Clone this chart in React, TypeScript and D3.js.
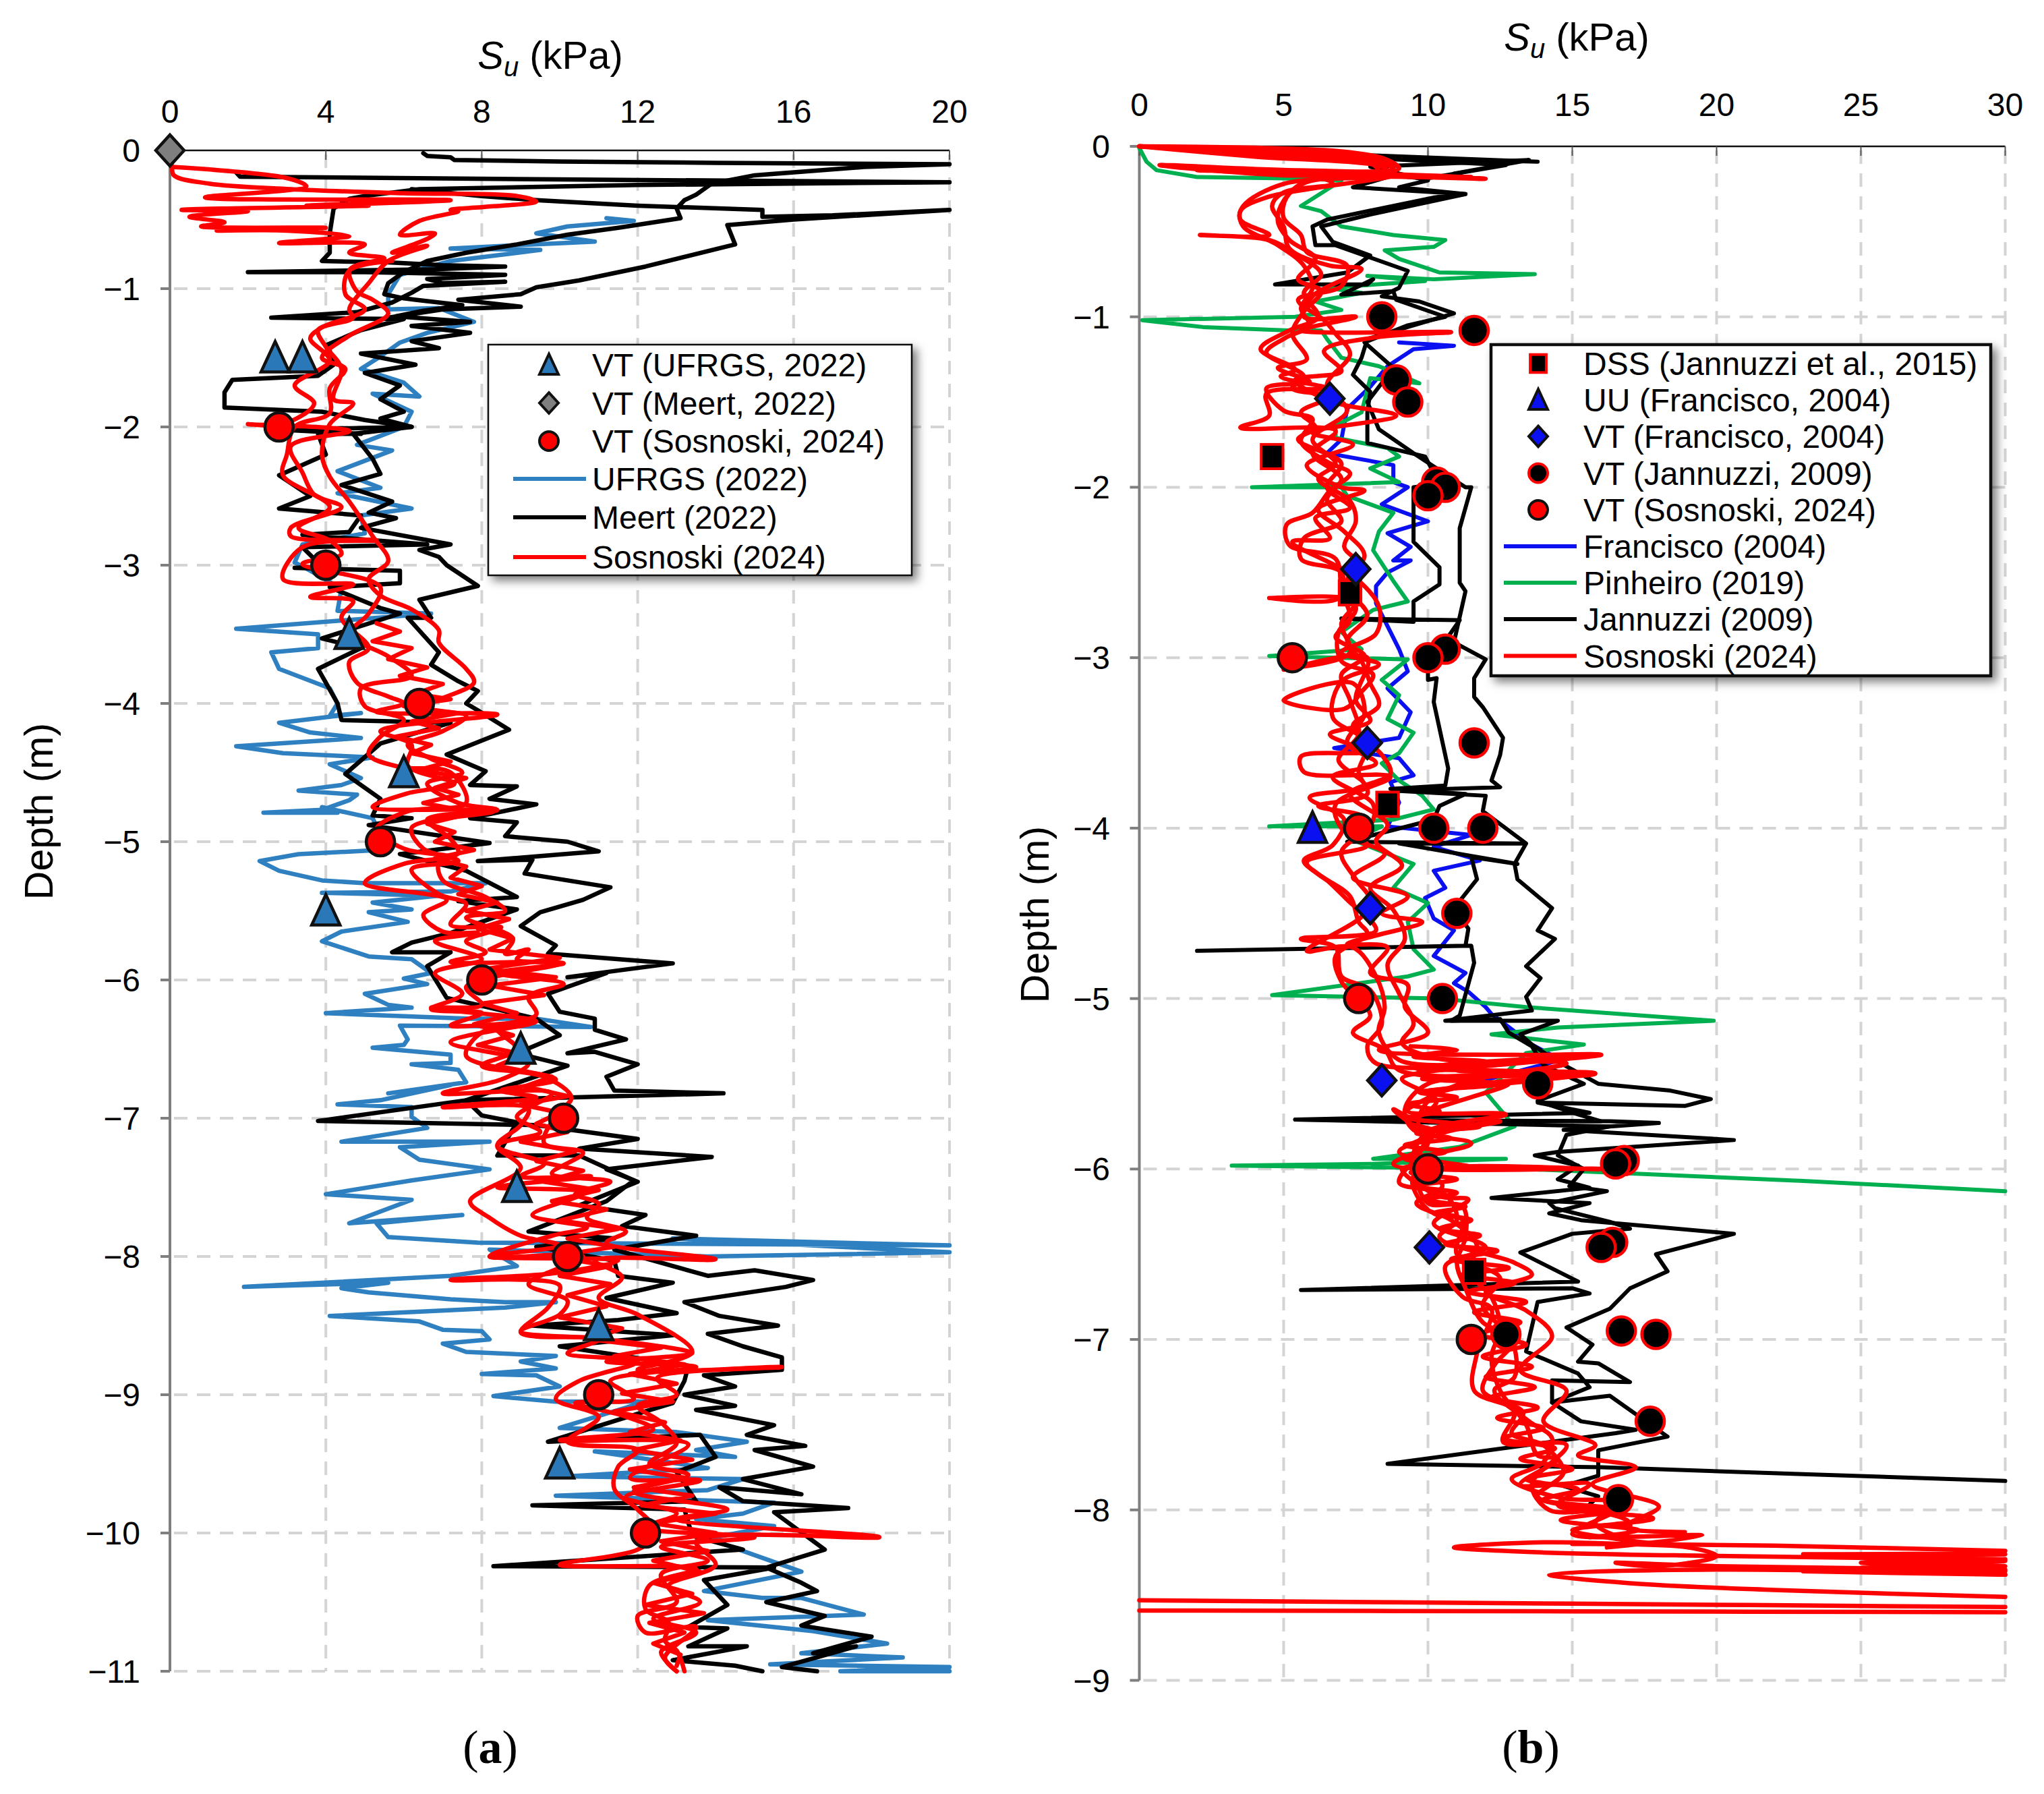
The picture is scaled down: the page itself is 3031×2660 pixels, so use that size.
import React from "react";
import * as d3 from "d3";

type P = [number, number];

// ---------- Panel (a): [Su kPa, depth m below ground] ----------
const ufrgsA: P[] = [[11.2,.49],[11.9,.51],[10.2,.55],[9.4,.6],[10.9,.66],[8.6,.69],[7.2,.71],[9.5,.72],[7.2,.8],[5.9,.9],[5.6,1.04],[5.6,1.15],[6.9,1.14],[7.8,1.24],[6.6,1.32],[5.9,1.39],[5.4,1.49],[4.9,1.58],[6,1.68],[6.4,1.78],[5.2,1.76],[6.2,1.89],[6,2],[4.8,2.13],[5.7,2.17],[4.3,2.32],[5.4,2.44],[4.3,2.48],[6.2,2.59],[4.9,2.64],[5,2.77],[3.4,2.85],[3.2,2.98],[3.6,3.04],[4.4,3.17],[4.3,3.33],[6.7,3.35],[1.7,3.46],[3.8,3.5],[3.8,3.6],[2.6,3.63],[2.8,3.75],[4.1,3.89],[4.3,4],[4.1,4.09],[4.9,4.07],[2.8,4.14],[3.6,4.21],[4.9,4.25],[1.7,4.31],[2.9,4.36],[5.2,4.39],[4.1,4.44],[4.9,4.54],[4.4,4.59],[3.3,4.63],[4.8,4.66],[4.6,4.7],[3.9,4.77],[2.4,4.79],[4.3,4.79],[3.9,4.75],[5.2,4.83],[5.4,4.95],[5.4,5.06],[3.3,5.09],[2.3,5.14],[2.8,5.21],[3.9,5.28],[5,5.3],[8.1,5.3],[7.2,5.36],[3.9,5.37],[6.9,5.39],[5.2,5.44],[6.2,5.49],[5.1,5.51],[6.1,5.58],[4.4,5.65],[3.9,5.72],[5.1,5.83],[6.2,5.85],[6.7,5.95],[6,5.99],[6.6,6.03],[5,6.1],[5.6,6.18],[6.2,6.2],[4,6.24],[7.7,6.28],[9.4,6.28],[10.8,6.34],[5.9,6.33],[6.1,6.43],[6,6.47],[5.2,6.49],[7.2,6.54],[7.2,6.6],[6.2,6.61],[7.4,6.65],[7.6,6.74],[5.6,6.82],[7.2,6.76],[5.4,6.87],[4.3,6.9],[6.2,6.92],[6.2,6.99],[6.6,7.07],[4.4,7.17],[8.2,7.17],[5.9,7.21],[6.4,7.3],[8.2,7.37],[6.2,7.45],[4,7.55],[6.2,7.59],[4.6,7.76],[7.5,7.7],[5.3,7.76],[5.6,7.86],[7.9,7.9],[20,7.92],[12.9,7.87],[20,7.97],[13.8,8],[8.2,7.95],[8.9,8.07],[7.2,8.14],[1.9,8.22],[5.6,8.19],[4.4,8.23],[5.1,8.26],[7.2,8.31],[8.6,8.33],[9.9,8.33],[8.6,8.37],[4.1,8.43],[6.4,8.47],[7,8.53],[8,8.54],[8.2,8.6],[7,8.63],[7.6,8.69],[9.9,8.72],[9,8.76],[9.9,8.81],[8,8.85],[9.4,8.86],[10,8.94],[8.3,9.01],[9.9,9.05],[12.2,9.05]];
const ufrgsB: P[] = [[12.2,9.05],[10,9.24],[13,9.27],[14.8,9.34],[13.5,9.4],[14.5,9.45],[10.9,9.41],[13.8,9.53],[10.2,9.59],[14.7,9.61],[13.8,9.69],[9.9,9.73],[15.5,9.78],[14.7,9.86],[13.5,9.9],[15.5,9.95],[13.8,10.04],[16.2,10.28],[13.7,10.42],[15.2,10.47],[16.2,10.47],[17.8,10.59],[13.8,10.63],[16.5,10.71],[18.4,10.8],[16.2,10.87],[18.8,10.9],[15.4,10.95],[20,10.97],[17.2,11],[20,11]];
const meertA: P[] = [[6.5,.02],[6.6,.04],[7.2,.05],[7.3,.07],[10,.08],[14,.09],[20,.1],[17.8,.12],[15,.18],[13.9,.24],[13.5,.32],[13.2,.36],[13,.42],[13.1,.49],[11.5,.56],[10.2,.61],[8.9,.68],[7.6,.74],[6.6,.8],[6,.88],[5.6,.96],[5.5,1.04],[6,1.07],[6.3,1.08],[7.5,1.12],[6.5,1.16],[5.8,1.2],[7.7,1.24],[6.2,1.27],[7.7,1.32],[6.2,1.38],[6.9,1.43],[4.9,1.47],[6.3,1.55],[5,1.61],[5.9,1.7],[5.4,1.8],[6,1.89],[5.4,1.94],[6.2,2],[4.7,2.05],[5.2,2.23],[5.4,2.34],[4.4,2.42],[5.7,2.54],[5.1,2.62],[5.8,2.66],[4.9,2.73],[7.2,2.85],[6.4,2.89],[6.9,2.94],[7.1,3],[7.9,3.15],[6.4,3.25],[6.7,3.38],[6.1,3.38],[6.9,3.63],[6.7,3.72],[7.4,3.84],[7.9,3.91],[7.6,4],[7.9,4.05],[8.7,4.19],[7.1,4.37],[8.1,4.49],[7.7,4.59],[8.9,4.6],[8.2,4.69],[9.4,4.73],[7.7,4.83],[8.9,4.86],[8.6,4.96],[10.2,5],[11,5.07],[7.9,5.14],[9.3,5.13],[9.1,5.23],[11.3,5.33],[10.6,5.42],[9.5,5.51],[9,5.61],[9.9,5.75],[9.7,5.81],[12.9,5.88],[10.2,5.98],[11.2,5.95],[9.7,6.1],[10,6.23],[10.9,6.28],[10.9,6.36],[11.7,6.43],[10.2,6.53],[10.9,6.52],[12,6.61],[11.2,6.7],[11.4,6.8],[14.2,6.82],[7.6,6.87],[3.8,7.02],[9.4,7.05],[12,7.15],[10.5,7.22],[13.9,7.28],[11.2,7.37],[12,7.46],[10.5,7.63],[12.2,7.7],[11.6,7.78],[13.5,7.85],[11.4,7.95],[13.8,8.14],[15,8.1],[16.5,8.17],[15.8,8.22],[13.2,8.33],[14.1,8.43],[15.6,8.5],[13.8,8.56],[14.7,8.65],[15.7,8.73],[15.7,8.82],[13.7,8.86],[14.5,8.94],[13.2,9],[14.5,9.08],[13.5,9.11],[15.5,9.22],[14.8,9.29],[16.3,9.37],[15,9.4],[16.5,9.52],[14.7,9.61],[16.2,9.72],[14.1,9.67],[14.7,9.77],[17.4,9.82],[15.5,9.85],[16.8,10.12],[15.3,10.25],[16.2,10.36],[16.6,10.42],[15.3,10.5],[16.8,10.6],[16.2,10.67],[18,10.75],[16.5,10.87],[17.6,10.82],[15.7,10.97],[16.6,11]];
const meertB: P[] = [[1.7,.16],[1.8,.19],[10,.21],[20,.23],[12,.25],[6.4,.28],[5,.33],[4.6,.35],[4.2,.42],[4.1,.6],[4.1,.74],[3.9,.8],[5.6,.81],[7,.83],[8.6,.84],[6.8,.86],[2,.88],[5,.88],[8.6,.9],[6.6,.93],[7,.96],[8.6,.95],[6.5,.98],[6.2,1.03],[5.7,1.1],[4.8,1.17],[2.6,1.21],[6,1.22],[4.9,1.3],[4,1.41],[4.1,1.45],[4.2,1.55],[3.8,1.63],[1.6,1.66],[1.4,1.75],[1.4,1.86],[3.9,1.89],[5,1.95],[6.2,2],[2.8,2.02],[4.9,2.05],[3.8,2.05],[4,2.2],[2.8,2.35],[3.6,2.5],[2.8,2.59],[4.9,2.64],[4.6,2.76],[3.4,2.78],[6.6,2.85],[3.4,2.87],[3.9,3.01],[3.2,3.02],[5.9,3.04],[5.9,3.13],[4.1,3.16],[5.4,3.31],[5.9,3.35],[3.9,3.53],[4.9,3.6],[3.8,3.75],[4.3,4],[4.4,4.12],[7.2,4.14],[5.4,4.29],[4.5,4.51],[5.4,4.69],[5.2,4.81],[6.2,4.83],[5.1,4.88],[8.2,5.01],[5.9,5.09],[7.6,5.21],[8.9,5.4],[7.4,5.43],[8.9,5.49],[7.2,5.66],[6.2,5.73],[5.7,5.8],[7.2,5.8],[6.6,5.9],[7.1,6.13],[8.2,6.2],[9.4,6.28],[10,6.4],[8.9,6.53],[10.2,6.62],[7.6,6.87],[8,6.98],[8.9,7.03],[8.4,7.27],[10.5,7.27],[11.9,7.45],[11.2,7.6],[9.2,7.82],[11.4,7.87],[9.4,7.93],[11.4,8.03],[11.5,8.14],[12.9,8.19],[11.2,8.3],[13,8.41],[11.5,8.46],[9.3,8.5],[12.9,8.57],[10,8.65],[13.3,8.79],[13.2,8.9],[12.9,9.06],[12.2,9.12],[9.7,9.34],[13.6,9.29],[14,9.45],[13,9.56],[13.5,9.77],[9.3,9.8],[13.2,9.83],[13.4,10.02],[14.7,10.12],[8.3,10.24],[15.5,10.25],[13.7,10.34],[14.3,10.52],[13.3,10.68],[14.3,10.69],[13.3,10.82],[14.8,10.82],[12.9,10.92],[14.5,10.96],[15.2,11]];
const meertC: P[] = [[6.2,.28],[8,.33],[9.4,.36],[12,.4],[15.2,.43],[15.2,.48],[17,.47],[20,.43],[16,.5],[14.3,.54],[14.5,.68],[12.2,.84],[10.5,.94],[9.4,.99],[9,1.04],[7.4,1.08],[9,1.13],[7,1.15],[5.6,1.21]];
const sosA: P[] = [[0,0],[0.05,.12],[.1,.18],[1,.24],[3.1,.28],[6,.31],[8.9,.33],[9.4,.37],[7.2,.43],[7.4,.44],[6.4,.51],[5.9,.61],[6.8,.6],[6.6,.64],[5.7,.74],[6.6,.69],[5.6,.8],[5.1,.96],[4.6,1.15],[4.7,1.21],[3.8,1.3],[4,1.42],[4.4,1.58],[4.2,1.8],[4.7,1.83],[4.1,1.98],[3.9,2.2],[4.1,2.36],[4.6,2.54],[5.2,2.79],[5.6,2.97],[5.1,3.1],[5.4,3.22],[6.2,3.32],[6.9,3.47],[6.9,3.56],[7.6,3.75],[7.8,3.85],[6.5,4.03],[7.6,4.09],[7,4.2],[6.1,4.3],[6.7,4.4],[7.5,4.5],[6.6,4.58],[7.4,4.72],[8.4,4.77],[6.6,4.84],[7.2,4.98],[7.4,5.08],[6.9,5.15],[7,5.28],[8.1,5.4],[8.6,5.5],[7.6,5.55],[8.8,5.7],[8.6,5.81],[9.2,5.78],[8.9,5.85],[10.1,5.88],[8.4,5.95],[10.1,6.03],[9.2,6.12],[9.4,6.25],[8.4,6.35],[8.9,6.5],[8,6.62],[9.6,6.7],[10.3,6.85],[9.9,6.98],[9.6,7.18],[10.6,7.25],[9.8,7.4],[11.3,7.46],[10.4,7.55],[11,7.62],[10.7,7.72],[11.7,7.82],[11.2,7.9],[14,8.02],[10.9,8.03],[11.6,8.15],[11,8.3],[12,8.42],[13.4,8.69],[12,8.82],[15.7,8.8],[12.5,8.88],[13,9],[12,9.08],[12.6,9.2],[13,9.35],[12.3,9.5],[13.3,9.58],[11.9,9.7],[14.3,9.83],[13,9.9],[18.2,10.03],[13.5,10.06],[14,10.23],[12.8,10.38],[13.6,10.5],[12.4,10.62],[13.5,10.72],[12.6,10.86],[13,11]];
const sosB: P[] = [[.05,.12],[3,.2],[3.5,.26],[.9,.34],[7.2,.36],[3.5,.4],[5.1,.4],[.3,.43],[2,.44],[.5,.48],[1.4,.52],[.8,.55],[4,.56],[1.2,.58],[3,.58],[4.6,.62],[2.8,.67],[5,.68],[4.6,.74],[5.5,.78],[4.8,.83],[4.6,.87],[4.8,1.02],[5.2,1.08],[5.6,1.18],[4.6,1.34],[3.9,1.5],[4.5,1.58],[4.1,1.72],[4.1,1.9],[3.2,2],[3,2.2],[2.9,2.35],[4.1,2.58],[3.3,2.73],[4.1,2.82],[4.4,2.92],[3.4,2.99],[5.4,3.16],[5.1,3.35],[4.6,3.5],[5.6,3.66],[6.2,3.8],[4.9,3.89],[5,4.02],[6,4.12],[5.4,4.24],[5.1,4.37],[5.9,4.46],[7.2,4.5],[7.6,4.72],[6.1,4.78],[5.3,4.91],[6,5.05],[7.2,5.11],[6,5.16],[5,5.3],[7.1,5.42],[6.5,5.53],[7,5.65],[7.9,5.66],[6.8,5.72],[8,5.85],[6.8,5.95],[7.5,6.1],[6.7,6.21],[8,6.24],[7.2,6.33],[9.3,6.31],[7.2,6.45],[9.2,6.6],[8.5,6.72],[7,6.82],[9.8,6.82],[8.9,6.99],[9.5,7.1],[8.4,7.2],[9,7.36],[7.7,7.6],[8.2,7.72],[9,7.85],[10,7.92],[8.2,8],[11.5,8.03],[9.9,8.12],[7.2,8.17],[10,8.21],[9.7,8.37],[9,8.55],[11,8.6],[10.2,8.7],[12,8.76],[10.5,8.9],[9.9,9.03],[11,9.16],[10.2,9.34],[12,9.4],[11.5,9.52],[11.4,9.68],[12,9.83],[12.5,10],[12,10.12],[10,10.23],[13.5,10.26],[12.3,10.38],[12.2,10.55],[12.8,10.65],[12.7,10.78],[13,10.85],[13.2,11]];
const sosC: P[] = [[5.7,.8],[4.6,.87],[4.5,1.04],[5,1.15],[3.9,1.28],[3.6,1.36],[4.1,1.52],[3.2,1.7],[3.7,1.83],[2.9,1.98],[2,1.98],[4.6,2.03],[3.1,2.14],[3.4,2.33],[3.7,2.49],[4.4,2.58],[3.1,2.73],[3.1,2.79],[5.3,2.82],[3.4,2.87],[2.9,3.1],[4.7,3.14],[3.6,3.23],[4.7,3.26],[4.4,3.38],[5.1,3.6],[4.6,3.7],[4.8,3.85],[5.6,3.95],[6,4],[5.3,4.06],[8.4,4.08],[5.4,4.2],[6.2,4.3],[6.1,4.45],[7.3,4.58],[6.1,4.65],[5.2,4.75],[8.3,4.78],[6.2,4.9],[6.5,5.05],[7.4,5.14],[6.2,5.2],[6.9,5.38],[7.6,5.45],[7.2,5.6],[8.5,5.62],[7.6,5.72],[8.1,5.8],[7.2,5.87],[10,5.88],[7.6,6.05],[8,6.18],[6.7,6.2],[9.4,6.3],[8,6.38],[7.6,6.55],[9.9,6.72],[8.5,6.8],[9.4,6.85],[7,6.92],[9.2,6.93],[9,7.05],[8.4,7.2],[9.6,7.33],[9,7.42],[10.8,7.42],[8.4,7.5],[10.6,7.54],[9.3,7.7],[10.7,7.79],[9.8,7.85],[8.2,8],[10.6,8],[9.2,8.2],[10.2,8.32],[10,8.42],[9,8.54],[11.2,8.6],[13.4,8.7],[11.2,8.76],[13.5,8.8],[11.3,8.9],[11.9,9.03],[10.4,9.06],[11.6,9.15],[12.4,9.25],[10,9.33],[13.3,9.36],[11.8,9.6],[13.6,9.62],[11.7,9.74],[13,9.86],[12.2,9.96],[15,10.03],[12.6,10.1],[13.8,10.2],[12.6,10.3],[13,10.5],[12,10.6],[12.2,10.72],[13.5,10.68],[12.7,10.9],[13,11]];
const sosD: P[] = [[5.3,3.42],[5.9,3.48],[5.2,3.55],[6.2,3.6],[5.6,3.68],[6.6,3.74],[5.9,3.8],[7,3.86],[6.3,3.93],[7.2,3.97],[6,4.02],[7.4,4.07],[6.2,4.13],[6.9,4.18],[5.8,4.24],[6.7,4.3],[6.2,4.36],[7.2,4.42],[6.4,4.48],[7.6,4.54],[6.8,4.61],[7.4,4.66],[6.5,4.72],[7.8,4.79],[6.6,4.87],[7.3,4.93],[6.8,5],[7.8,5.06],[6.8,5.12],[7.6,5.18],[7.2,5.26],[8,5.32],[7.4,5.38],[8.4,5.44],[7.6,5.5],[8.7,5.56],[7.9,5.63],[8.8,5.7],[8.2,5.78],[10,5.84],[8.1,5.92],[9.9,5.98],[8.2,6.04],[9.6,6.11],[8,6.17],[8.9,6.24],[7.8,6.32],[8.8,6.4],[7.9,6.47],[9.1,6.54],[8.4,6.62],[9.8,6.7],[9.1,6.77],[10.2,6.84],[9,6.9],[10,6.96],[9.4,7.04],[10.2,7.1],[9,7.17],[10.4,7.24],[9.4,7.31],[10.6,7.38],[9.6,7.46],[11,7.52],[9.8,7.6],[11.2,7.66],[10,7.74],[11.5,7.8],[10.2,7.87],[11.4,7.93],[9.8,8],[11.3,8.07],[10,8.14],[11.3,8.2],[10.2,8.28],[11.2,8.36],[10,8.44],[11.6,8.52],[10.8,8.6],[12.6,8.66],[11.4,8.72],[13.2,8.78],[11.8,8.85],[13,8.92],[11.6,8.99],[12.9,9.05],[11.4,9.12],[12.7,9.2],[11.8,9.27],[13.1,9.33],[11.9,9.4],[13.4,9.47],[11.8,9.54],[13.2,9.6],[11.9,9.67],[13.4,9.73],[12.1,9.8],[14,9.86],[12.4,9.93],[14,10],[12.6,10.06],[13.8,10.13],[12.4,10.2],[13.6,10.28],[12.4,10.36],[13.4,10.44],[12.2,10.52],[13.7,10.58],[12.3,10.65],[13.2,10.72],[12.4,10.8],[13.1,10.88],[13,10.96]];

const leftTriangles: P[] = [[2.7,1.5],[3.4,1.5],[4.6,3.5],[6,4.5],[4,5.5],[9,6.5],[8.9,7.5],[11,8.5],[10,9.5]];
const leftDiamonds: P[] = [[0,0]];
const leftCircles: P[] = [[2.8,2],[4,3],[6.4,4],[5.4,5],[8,6],[10.1,7],[10.2,8],[11,9],[12.2,10]];

// ---------- Panel (b) ----------
const francisco: P[] = [[9,1.15],[10.9,1.17],[9.5,1.19],[8.6,1.29],[8,1.41],[7.2,1.54],[7,1.72],[6.5,1.8],[8.8,1.87],[8.8,1.97],[9.3,2],[8.4,2.1],[10,2.2],[8.6,2.27],[9.4,2.35],[8.8,2.43],[9.4,2.43],[8.6,2.5],[8.2,2.58],[8.2,2.68],[9,2.95],[9.3,3.08],[8.6,3.18],[9.4,3.32],[9,3.47],[6.75,3.53],[9,3.59],[9.5,3.69],[8.7,3.73],[9,3.85],[8.6,3.99],[11.5,4.04],[10.2,4.11],[11.8,4.19],[10.2,4.25],[10.6,4.35],[9.9,4.41],[10.2,4.53],[10.9,4.6],[10.2,4.75],[11.3,4.85],[10.9,4.91],[11.4,4.96],[12,5.05],[12.2,5.09],[13.6,5.27],[14.6,5.36],[11.5,5.5]];
const pinheiro: P[] = [[0,.01],[.25,.09],[.6,.14],[2,.18],[5.8,.19],[7,.2],[5.6,.35],[6.3,.38],[7,.47],[8.8,.52],[10.6,.55],[10.2,.59],[8.5,.61],[9,.66],[10.4,.74],[13.7,.75],[10.2,.78],[7.9,.76],[9.9,.79],[6.5,.83],[7.7,.86],[6.1,.91],[7,.96],[5.4,1],[.1,1.02],[2.2,1.06],[5.2,1.08],[6.3,1.08],[6.5,1.13],[7,1.24],[8.3,1.29],[9.7,1.39],[8,1.36],[7.7,1.56],[6.8,1.64],[6.8,1.71],[8.6,1.77],[9,1.82],[8,1.89],[9,1.97],[3.9,2],[7,2],[7.2,2.05],[8.8,2.15],[8.3,2.26],[8.1,2.37],[8.8,2.55],[9.3,2.67],[8.1,2.72],[7,2.85],[7.7,2.95],[4.5,2.99],[9.3,3.01],[8.4,3.13],[9,3.22],[8.6,3.36],[9.5,3.44],[9,3.56],[8.4,3.62],[9,3.72],[9.8,3.81],[10.2,3.89],[8.8,3.95],[4.5,3.99],[8.4,3.99],[7.4,4.07],[9.5,4.21],[8.8,4.35],[10,4.44],[9.3,4.55],[9.5,4.71],[10.2,4.83],[9.3,4.87],[4.6,4.98],[10.4,5],[13.4,5.05],[19.9,5.13],[14.5,5.17],[12.2,5.21],[15.4,5.27],[13.4,5.32],[12,5.55],[13,5.75],[11.1,5.87],[8.1,5.94],[12.7,5.94],[8.1,5.97],[3.2,5.98],[13.4,6],[23,6.07],[30,6.13]];
const jannuzziA: P[] = [[0,0],[13.8,.09],[7,.06],[12.7,.11],[9.9,.19],[8.8,.17],[7.4,.24],[11.3,.28],[10.2,.3],[6.5,.43],[6,.47],[6.1,.58],[6.8,.58],[9.3,.73],[9,.83],[8.4,.88],[9.7,.91],[10.9,.98],[9.3,1.06],[7.9,1.13],[7.7,1.24],[7.4,1.34],[8,1.44],[7.9,1.56],[7.9,1.74],[9.9,1.82],[10.4,1.98],[9.5,2],[9.5,2.32],[10.4,2.47],[10.4,2.57],[9.5,2.67],[9.5,2.79],[7,2.77],[11.1,2.78],[10.4,2.95],[10,3.05],[10,3.13],[10.3,3.12],[10.2,3.26],[10.7,3.65],[10.6,3.75],[8.7,3.77],[11.3,3.8],[10.4,3.87],[10.2,3.95],[7.2,4.08],[13.3,4.09],[9,4.09],[13.1,4.21],[11.5,4.17],[11.7,4.3],[10.9,4.47],[11.4,4.59],[11.3,4.69],[2,4.72],[11.5,4.69],[11.6,4.79],[11.1,5.1],[10.8,5.13],[12.5,5.12],[12.8,5.2],[13.6,5.28],[14,5.39],[15.4,5.5],[13.8,5.6],[15.2,5.68],[16,5.72],[5.4,5.71],[16.3,5.75],[14.8,5.8],[14.5,5.92],[15.4,6],[14.9,6.1],[16.2,6.13],[14.2,6.2],[14.4,6.23],[16.3,6.31],[17,6.35],[15,6.38],[13.2,6.49],[15.2,6.66],[5.6,6.71],[15,6.7],[15.6,6.73],[13.8,6.78],[13.4,7.07],[15.2,7.2],[15.6,7.28],[14.3,7.37],[15.3,7.48],[17.2,7.53],[16.5,7.55],[8.6,7.73],[16,7.75],[23,7.79],[30,7.83]];
const jannuzziB: P[] = [[10.9,.16],[13.5,.08],[8,.12],[10,.2],[9,.24],[11.3,.28],[8,.4],[6.3,.47],[6.7,.56],[8,.64],[7.2,.74],[4.7,.81],[7.9,.81],[8.1,.78],[7,.87],[8.8,.85],[8.9,.9],[10.6,1],[9.3,1.05],[7.8,1.15],[8.8,1.3],[7.9,1.5],[8.3,1.66],[9.5,1.8],[11.3,2],[11.5,2],[11.1,2.24],[11.1,2.56],[11.3,2.61],[11.1,2.76],[10.9,2.91],[12,3.01],[11.6,3.12],[11.6,3.23],[11.9,3.29],[12.6,3.47],[12.5,3.57],[12.2,3.72],[12.5,3.76],[8.8,3.78],[12,3.81],[11.9,3.9],[13.4,4.09],[13,4.21],[13.1,4.3],[14.3,4.47],[13.8,4.6],[14.4,4.65],[13.4,4.81],[13.9,4.88],[13.4,4.99],[13.6,5.07],[10.6,5.13],[14.5,5.13],[13.2,5.21],[13.6,5.27],[14.5,5.37],[15.9,5.5],[18.4,5.54],[19.8,5.59],[18.9,5.63],[13.8,5.61],[15.6,5.67],[5.4,5.71],[16.3,5.72],[18,5.73],[14.7,5.77],[20.6,5.83],[14.5,5.9],[13.7,5.92],[15.2,5.98],[14.5,6.06],[15.6,6.11],[12.2,6.17],[15.6,6.2],[14.2,6.26],[15.3,6.3],[20.6,6.38],[17.9,6.5],[18.3,6.6],[17,6.7],[16.3,6.82],[14.8,6.93],[15.7,7.03],[15.2,7.13],[15.9,7.14],[17,7.25],[14.3,7.24],[14.3,7.37],[16.3,7.33],[18.3,7.57],[15.9,7.65],[15.9,7.8],[14.7,7.86],[15.9,7.92],[15.4,8]];
const sosbA: P[] = [[0,0],[2,.01],[8,.08],[8.8,.13],[8.8,.16],[5,.22],[3.6,.35],[3.5,.43],[4.5,.52],[2.1,.52],[4.5,.55],[5.4,.63],[6.3,.75],[5.7,.86],[6.2,1],[5.2,1.08],[4.2,1.19],[5.4,1.31],[4.9,1.35],[6.5,1.42],[4.4,1.45],[4.5,1.58],[3.5,1.65],[6.8,1.67],[6,1.8],[7,1.95],[6.5,2.07],[7,2.2],[5.7,2.3],[5.6,2.42],[7,2.5],[6.9,2.65],[4.5,2.65],[7.5,2.67],[7,2.8],[7.3,2.97],[5,3.07],[7.9,3],[7.5,3.25],[8,3.37],[6.6,3.45],[7.8,3.55],[5.6,3.58],[5.7,3.67],[8.7,3.7],[6.8,3.86],[7,4],[7.9,4.1],[5.8,4.2],[6.6,4.32],[7.2,4.42],[8.2,4.6],[5.6,4.65],[6.8,4.7],[7,4.87],[8,4.95],[8.4,5.15],[7.9,5.28],[8.2,5.38],[16,5.33],[10.2,5.4],[14.5,5.45],[10,5.5],[9.2,5.65],[9.5,5.77],[11.5,5.85],[9.6,5.95],[9,6.08],[10.6,6.15],[11,6.3],[10.4,6.4],[13,6.55],[13.6,6.62],[12,6.72],[13.4,6.83],[14.3,6.98],[13.2,7.18],[14.8,7.3],[14,7.48],[15.8,7.62],[15.2,7.68],[17.2,7.75],[15.7,7.85],[18,7.98],[16.8,8.1],[18.9,8.13]];
const sosbB: P[] = [[0,0],[7,.03],[8.6,.08],[9,.13],[5.5,.14],[.7,.11],[5,.17],[8.8,.17],[4.4,.3],[3.5,.38],[3.6,.47],[4.8,.58],[5.7,.7],[6,.83],[5.6,.95],[5.9,1.05],[5.1,1.12],[4.4,1.21],[5.7,1.35],[5.3,1.42],[6.6,1.47],[5.6,1.56],[6.1,1.65],[5.5,1.72],[7,1.86],[6.5,2],[7.3,2.12],[6.1,2.18],[6.6,2.3],[5.3,2.32],[7.4,2.52],[8.3,2.7],[8.2,2.86],[7,2.97],[8.3,3.04],[7,3.14],[6.7,3.35],[7.9,3.5],[7.6,3.67],[7.9,3.8],[6.2,3.87],[7.8,3.94],[7.4,4.05],[8.5,4.15],[7.4,4.29],[9.3,4.4],[8.4,4.5],[9.8,4.55],[8.2,4.63],[7.2,4.68],[8.6,4.7],[8,4.85],[9.3,4.92],[9.2,5.05],[10,5.2],[8.3,5.3],[13,5.33],[16,5.33],[11,5.42],[15.8,5.44],[10.2,5.57],[9.7,5.75],[12.5,5.72],[10,5.83],[9.6,6.03],[10,6.2],[11.2,6.22],[11.3,6.4],[11,6.55],[11.3,6.7],[11.9,6.9],[13,7],[12.3,7.15],[11.9,7.3],[13.3,7.43],[12.9,7.55],[14,7.62],[14.7,7.78],[13.8,7.92],[15.7,8],[17,8.08],[16.7,8.2]];
const sosbC: P[] = [[0,0],[4,.06],[8.2,.11],[8.6,.14],[6,.16],[12,.19],[5.8,.21],[5,.32],[4.8,.44],[5.2,.55],[6.1,.66],[5.5,.78],[6.3,.85],[5.7,.97],[5.3,1.1],[5.8,1.25],[4.8,1.3],[5.9,1.38],[4.4,1.42],[5,1.55],[6,1.6],[5.6,1.73],[6.5,1.85],[7.3,1.92],[6.6,2.02],[6,2.15],[5.1,2.22],[5.2,2.34],[6.8,2.42],[7,2.6],[7.3,2.78],[6.8,2.88],[7.8,2.99],[7,3.1],[7.3,3.25],[7.6,3.45],[6.9,3.6],[7.8,3.75],[5.9,3.82],[7.1,3.95],[6.7,4.1],[5.7,4.19],[6.2,4.27],[7.3,4.4],[7.6,4.55],[7.9,4.62],[6.8,4.75],[7,4.9],[8,5.1],[7.4,5.2],[8.5,5.3],[9,5.42],[15.5,5.44],[10,5.54],[12.8,5.5],[9.3,5.72],[10.2,5.78],[9,5.9],[11.5,5.99],[9.1,6],[10.4,6.16],[11.4,6.18],[10.2,6.32],[12,6.46],[10.6,6.57],[11.2,6.75],[12.2,6.82],[11.7,7.08],[11.6,7.3],[13,7.42],[12.6,7.6],[14.8,7.62],[13.6,7.85],[14.2,8],[16.5,8],[15,8.14],[19.5,8.15],[16.2,8.22]];
const sosbD: P[] = [[0,0],[3,.02],[7,.05],[8.8,.12],[8.6,.16],[11.5,.18],[6,.19],[5.1,.3],[5,.42],[5.6,.52],[5.8,.62],[7.2,.7],[7,.82],[5.5,.9],[6.4,1.02],[6.8,1.1],[7.3,1.22],[6.5,1.4],[7.2,1.55],[6,1.72],[6.8,1.86],[6.2,1.95],[7.3,2.08],[7.5,2.2],[7.1,2.35],[7.6,2.45],[7.3,2.6],[7.9,2.75],[7.2,2.9],[7.7,3.02],[8,3.15],[8.3,3.28],[7.4,3.4],[8.4,3.57],[8.7,3.68],[7.3,3.8],[8.6,3.98],[8.2,4.08],[9.1,4.22],[8,4.35],[8.8,4.48],[9.2,4.65],[8.6,4.8],[9,4.97],[9.5,5.15],[9.1,5.26],[10.3,5.35],[14.8,5.38],[11.5,5.48],[9.8,5.6],[9.3,5.66],[12.7,5.68],[10,5.78],[9.5,5.94],[10.5,6.1],[9.6,6.2],[10.8,6.3],[11.7,6.45],[11.4,6.6],[12.2,6.75],[12.5,6.94],[12.2,7.1],[12.5,7.3],[13.4,7.5],[13.8,7.68],[14.5,7.7],[13.2,7.85],[15.6,7.85],[14.5,7.97],[17.8,8.05],[15,8.12],[18,8.2]];
const sosbE: P[] = [[0,0],[5,.05],[7.9,.09],[8.3,.15],[2,.14],[6,.17],[6.7,.22],[5,.27],[4.6,.35],[5,.47],[5.2,.6],[6.6,.7],[7.7,.72],[6,.88],[5.7,1],[7.5,1],[5.6,1.08],[10.8,1.09],[8.2,1.12],[6.4,1.2],[7,1.32],[5.4,1.37],[6.7,1.5],[8.9,1.58],[6,1.68],[7.4,1.75],[5.8,1.87],[7,2],[7.8,2.02],[6.2,2.13],[7.1,2.26],[7.8,2.4],[7.2,2.55],[7.5,2.72],[6.9,2.85],[7,3.02],[8.1,3.1],[7.7,3.2],[7.1,3.3],[5,3.25],[7.4,3.15],[7.8,3.33],[7.2,3.5],[8.2,3.62],[6.7,3.7],[8.1,3.86],[8,3.99],[7,4.14],[7.5,4.3],[8,4.42],[7.7,4.52],[5.8,4.72],[7.4,4.7],[8.2,4.87],[8.5,5.05],[8.3,5.2],[9,5.36],[11,5.4],[9.1,5.47],[10.3,5.6],[9.5,5.7],[8.8,5.65],[10,5.85],[8.8,5.97],[16,6],[9.5,6.04],[10,6.24],[11.2,6.3],[11,6.5],[12.5,6.64],[11.9,6.8],[12.9,7],[13,7.22],[12.3,7.3],[13.5,7.48],[14.3,7.58],[14,7.72],[12.9,7.82],[14.6,7.93],[16.5,7.96],[15.8,8.08],[17,8.18]];
const sosbF: P[] = [[9.4,5.28],[11,5.3],[9.5,5.34],[12,5.37],[9.6,5.41],[13.5,5.43],[9.8,5.47],[12.6,5.5],[9.7,5.55],[11,5.58],[9.3,5.62],[10.4,5.66],[9.3,5.7],[11.8,5.75],[9.6,5.79],[10.8,5.82],[9.2,5.86],[10.6,5.9],[9.2,5.94],[10.4,5.98],[9.4,6.02],[11,6.06],[9.6,6.1],[11,6.14],[10,6.18],[11.3,6.22],[10.2,6.26],[11.5,6.3],[10.4,6.35],[11.8,6.39],[10.6,6.44],[12.4,6.48],[10.8,6.53],[12.8,6.58],[11.2,6.62],[13,6.67],[11.4,6.72],[13.4,6.78],[11.6,6.84],[13.2,6.9],[11.8,6.97],[13.4,7.03],[11.9,7.1],[13.6,7.16],[12,7.22],[13.7,7.28],[12.2,7.34],[13.8,7.4],[12.4,7.46],[14,7.52],[12.6,7.58],[14.4,7.64],[13.2,7.7],[15,7.76],[13.4,7.82],[15.2,7.88],[14,7.94],[16.6,8],[14.6,8.06],[17.3,8.12],[15.6,8.16]];
const sosbLoopA: P[] = [[30,8.24],[22,8.21],[17,8.2],[14,8.19],[10.9,8.22],[14,8.25],[20,8.27],[30,8.29]];
const sosbLoopB: P[] = [[15,8.2],[19,8.22],[20,8.27],[18,8.33],[16.5,8.31],[20,8.33],[30,8.35]];
const sosbLoopC: P[] = [[30,8.38],[20,8.35],[14.2,8.38],[17,8.43],[22,8.47],[30,8.51]];
const sosbEdge: P[] = [[23,8.26],[30,8.26],[25,8.28],[30,8.3],[25,8.31],[30,8.33],[25,8.34],[30,8.36],[23,8.36],[30,8.38]];
const sosbFlatA: P[] = [[0,8.53],[15,8.55],[30,8.57]];
const sosbFlatB: P[] = [[0,8.59],[15,8.595],[30,8.6]];

const rightSquares: P[] = [[4.6,1.82],[7.3,2.62],[8.6,3.86],[11.6,6.6]];
const rightTriangles: P[] = [[6,4]];
const rightDiamonds: P[] = [[6.6,1.48],[7.5,2.48],[7.9,3.5],[8,4.47],[8.4,5.48],[10.05,6.46]];
const rightJannuzziDots: P[] = [[8.4,1],[11.6,1.08],[8.9,1.37],[9.3,1.5],[10.3,1.97],[10.6,2],[10,2.05],[10.6,2.95],[10,3],[11.6,3.5],[10.2,4],[11.9,4],[11,4.5],[10.5,5],[13.8,5.5],[16.8,5.95],[16.5,5.97],[16.4,6.43],[16,6.46],[16.7,6.95],[17.9,6.97],[12.7,6.97],[17.7,7.48],[16.6,7.94]];
const rightSosDots: P[] = [[5.3,3],[7.6,4],[7.6,5],[10,6],[11.5,7]];

const xTicksA = [0,4,8,12,16,20];
const yTicksA = [0,-1,-2,-3,-4,-5,-6,-7,-8,-9,-10,-11];
const xTicksB = [0,5,10,15,20,25,30];
const yTicksB = [0,-1,-2,-3,-4,-5,-6,-7,-8,-9];

const BLUE_A = "#2e80c0", TRI_A = "#2a78b8", GREEN = "#00b050", BLUE_B = "#0a10f0", RED = "#ff0000";
const FONT = "'Liberation Sans', Arial, sans-serif";
const MINUS = "\u2212";

type Sym = "tri"|"dia"|"cir"|"sq";
function Marker({x,y,sym,fill,stroke,sw,r}:{x:number,y:number,sym:Sym,fill:string,stroke:string,sw:number,r:number}) {
  const common = {fill, stroke, strokeWidth: sw, strokeLinejoin: "miter" as const};
  if (sym==="cir") return <circle cx={x} cy={y} r={r} {...common}/>;
  if (sym==="sq") return <rect x={x-r*.85} y={y-r*.95} width={r*1.7} height={r*1.9} {...common}/>;
  if (sym==="dia") return <path d={`M${x},${y-r*1.1}L${x+r},${y}L${x},${y+r*1.1}L${x-r},${y}Z`} {...common}/>;
  return <path d={`M${x},${y-r*1.15}L${x+r},${y+r}L${x-r},${y+r}Z`} {...common}/>;
}

function Axes({x,y,xt,yt,labelXY,labelX,titleX,titleY,depthX,depthY,capX,capText,tickY}:{x:any,y:any,xt:number[],yt:number[],labelXY:number,labelX:number,titleX:number,titleY:number,depthX:number,depthY:number,capX:number,capText:string,tickY:number}) {
  const [x0,x1]=x.range(); const [y0,y1]=y.range();
  return <g fontFamily={FONT} fontSize={48} fill="#000">
    {xt.slice(1).map(t=><line key={t} x1={x(t)} x2={x(t)} y1={y0+6} y2={y1} stroke="#d4d4d4" strokeWidth={4} strokeDasharray="20 14"/>)}
    {yt.slice(1).map(t=><line key={t} x1={x0+6} x2={x1} y1={y(t)} y2={y(t)} stroke="#d4d4d4" strokeWidth={4} strokeDasharray="20 14"/>)}
    <line x1={x0} x2={x0} y1={y0} y2={y1} stroke="#7f7f7f" strokeWidth={4}/>
    <line x1={x0} x2={x1} y1={y0} y2={y0} stroke="#111" strokeWidth={2.5}/>
    {xt.map(t=><line key={t} x1={x(t)} x2={x(t)} y1={y0} y2={y0+14} stroke="#555" strokeWidth={2}/>)}
    {yt.map(t=><line key={t} x1={x0-14} x2={x0} y1={y(t)} y2={y(t)} stroke="#7f7f7f" strokeWidth={4}/>)}
    {xt.map(t=><text key={t} x={x(t)} y={labelXY} textAnchor="middle">{t}</text>)}
    {yt.map(t=><text key={t} x={labelX} y={y(t)+17} textAnchor="end">{t<0?MINUS+(-t):t}</text>)}
    <text x={titleX} y={titleY} fontSize={58} textAnchor="middle"><tspan fontStyle="italic">S</tspan><tspan fontStyle="italic" fontSize={40} dy={11}>u</tspan><tspan dy={-11}> (kPa)</tspan></text>
    <text transform={`translate(${depthX},${depthY}) rotate(-90)`} fontSize={59} textAnchor="middle">Depth (m)</text>
    <text x={capX} y={tickY} fontFamily="'Liberation Serif', serif" fontSize={70} textAnchor="middle">(<tspan fontWeight="bold">{capText}</tspan>)</text>
  </g>;
}

export default function App() {
  const xa = d3.scaleLinear().domain([0,20]).range([252,1408]);
  const ya = d3.scaleLinear().domain([0,-11]).range([223,2478]);
  const xb = d3.scaleLinear().domain([0,30]).range([1689.5,2973.5]);
  const yb = d3.scaleLinear().domain([0,-9]).range([217,2491.5]);
  const la = d3.line<P>().x(d=>xa(d[0])).y(d=>ya(-d[1]));
  const lb = d3.line<P>().x(d=>xb(d[0])).y(d=>yb(-d[1]));
  const laR = d3.line<P>().x(d=>xa(d[0])).y(d=>ya(-d[1])).curve(d3.curveCatmullRom.alpha(0.5));
  const lbR = d3.line<P>().x(d=>xb(d[0])).y(d=>yb(-d[1])).curve(d3.curveCatmullRom.alpha(0.5));
  const blacksA: P[][] = [meertA,meertB,meertC];
  const redsA: P[][] = [sosA,sosB,sosC,sosD];
  const redsB: P[][] = [sosbA,sosbB,sosbC,sosbD,sosbE,sosbF,sosbLoopA,sosbLoopB,sosbLoopC,sosbEdge,sosbFlatA,sosbFlatB];

  const legA: [string,Sym|null,string,string][] = [
    ["VT (UFRGS, 2022)","tri",TRI_A,"#111"],["VT (Meert, 2022)","dia","#7f7f7f","#111"],["VT (Sosnoski, 2024)","cir",RED,"#111"],
    ["UFRGS (2022)",null,BLUE_A,""],["Meert (2022)",null,"#000",""],["Sosnoski (2024)",null,RED,""]];
  const legArowY = [541,597.5,654,710,767,826];
  const legB: [string,Sym|null,string,string][] = [
    ["DSS (Jannuzzi et al., 2015)","sq","#000",RED],["UU (Francisco, 2004)","tri",BLUE_B,"#111"],["VT (Francisco, 2004)","dia",BLUE_B,"#111"],
    ["VT (Jannuzzi, 2009)","cir","#000",RED],["VT (Sosnoski, 2024)","cir",RED,"#111"],
    ["Francisco (2004)",null,BLUE_B,""],["Pinheiro (2019)",null,GREEN,""],["Jannuzzi (2009)",null,"#000",""],["Sosnoski (2024)",null,RED,""]];
  const legBrowY = [539,593,647,701.5,756,810,864,918,972.6];

  return <svg width={3031} height={2660} viewBox="0 0 3031 2660" style={{position:"absolute",left:0,top:0,display:"block",background:"#fff"}}>
    <defs>
      <filter id="sh" x="-10%" y="-10%" width="125%" height="125%"><feDropShadow dx={7} dy={7} stdDeviation={7} floodColor="#000" floodOpacity={0.5}/></filter>
    </defs>
    <rect width={3031} height={2660} fill="#fff"/>
    <Axes x={xa} y={ya} xt={xTicksA} yt={yTicksA} labelXY={182} labelX={208} titleX={816} titleY={102} depthX={78} depthY={1203} capX={727} capText="a" tickY={2614}/>
    <Axes x={xb} y={yb} xt={xTicksB} yt={yTicksB} labelXY={172} labelX={1646} titleX={2338} titleY={75} depthX={1555} depthY={1356} capX={2270} capText="b" tickY={2614}/>

    <g fill="none" strokeLinejoin="round" strokeLinecap="round">
      <path d={la(ufrgsA)!} stroke={BLUE_A} strokeWidth={6.5}/>
      <path d={la(ufrgsB)!} stroke={BLUE_A} strokeWidth={6.5}/>
      {blacksA.map((d,i)=><path key={i} d={la(d)!} stroke="#000" strokeWidth={6.5}/>)}
      {redsA.map((d,i)=><path key={i} d={(i===3?la:laR)(d)!} stroke={RED} strokeWidth={6.5}/>)}
      <path d={lb(francisco)!} stroke={BLUE_B} strokeWidth={6}/>
      <path d={lb(pinheiro)!} stroke={GREEN} strokeWidth={6}/>
      <path d={lb(jannuzziA)!} stroke="#000" strokeWidth={6}/>
      <path d={lb(jannuzziB)!} stroke="#000" strokeWidth={6}/>
      {redsB.map((d,i)=><path key={i} d={lbR(d)!} stroke={RED} strokeWidth={6.5}/>)}
    </g>

    {leftTriangles.map((d,i)=><Marker key={i} x={xa(d[0])} y={ya(-d[1])} sym="tri" fill={TRI_A} stroke="#111" sw={4.5} r={21}/>)}
    {leftDiamonds.map((d,i)=><Marker key={i} x={xa(d[0])} y={ya(-d[1])} sym="dia" fill="#7f7f7f" stroke="#111" sw={4.5} r={21}/>)}
    {leftCircles.map((d,i)=><Marker key={i} x={xa(d[0])} y={ya(-d[1])} sym="cir" fill={RED} stroke="#111" sw={4.5} r={21}/>)}

    {rightSquares.map((d,i)=><Marker key={i} x={xb(d[0])} y={yb(-d[1])} sym="sq" fill="#000" stroke={RED} sw={4} r={19}/>)}
    {rightTriangles.map((d,i)=><Marker key={i} x={xb(d[0])} y={yb(-d[1])} sym="tri" fill={BLUE_B} stroke="#111" sw={4.5} r={21}/>)}
    {rightDiamonds.map((d,i)=><Marker key={i} x={xb(d[0])} y={yb(-d[1])} sym="dia" fill={BLUE_B} stroke="#111" sw={4.5} r={21}/>)}
    {rightJannuzziDots.map((d,i)=><Marker key={i} x={xb(d[0])} y={yb(-d[1])} sym="cir" fill="#000" stroke={RED} sw={4.5} r={21}/>)}
    {rightSosDots.map((d,i)=><Marker key={i} x={xb(d[0])} y={yb(-d[1])} sym="cir" fill={RED} stroke="#111" sw={4.5} r={21}/>)}

    <g fontFamily={FONT} fontSize={48} fill="#000">
      <rect x={724} y={511} width={628} height={342} fill="#fff" stroke="#111" strokeWidth={2.5} filter="url(#sh)"/>
      {legA.map(([t,s,f,st],i)=><g key={t}>
        {s ? <Marker x={814} y={legArowY[i]} sym={s} fill={f} stroke={st} sw={4} r={14}/> : <line x1={761} x2={869} y1={legArowY[i]} y2={legArowY[i]} stroke={f} strokeWidth={6}/>}
        <text x={878} y={legArowY[i]+17}>{t}</text></g>)}
      <rect x={2211} y={511} width={741} height={491} fill="#fff" stroke="#111" strokeWidth={4.5} filter="url(#sh)"/>
      {legB.map(([t,s,f,st],i)=><g key={t}>
        {s ? <Marker x={2281} y={legBrowY[i]} sym={s} fill={f} stroke={st} sw={4} r={14}/> : <line x1={2230} x2={2338} y1={legBrowY[i]} y2={legBrowY[i]} stroke={f} strokeWidth={6}/>}
        <text x={2348} y={legBrowY[i]+17}>{t}</text></g>)}
    </g>
  </svg>;
}
